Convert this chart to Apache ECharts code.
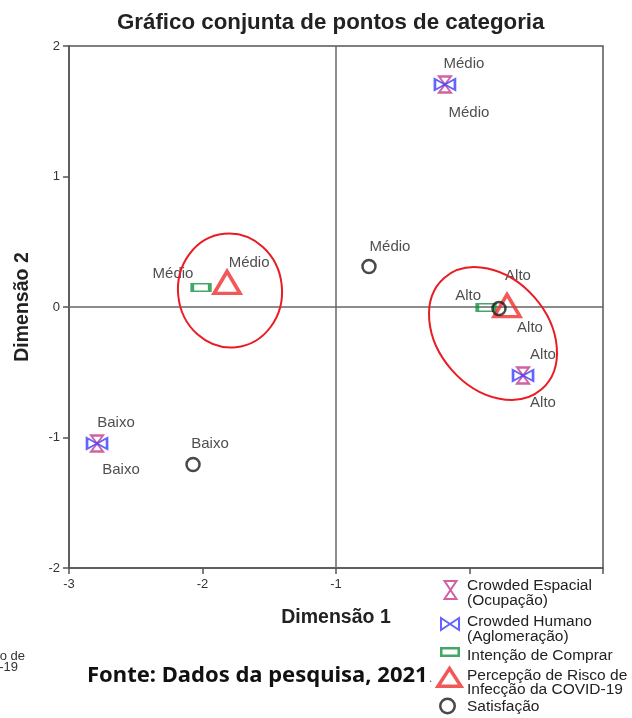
<!DOCTYPE html>
<html><head><meta charset="utf-8">
<script src="https://cdn.jsdelivr.net/npm/echarts@6/dist/echarts.min.js"></script>
<style>html,body{margin:0;padding:0;background:#fff}#c{width:632px;height:718px}</style>
</head><body><div id="c"></div>
<script>
// ---------- DATA ----------
const SERIES_NAMES = ['Crowded Espacial\n(Ocupação)', 'Crowded Humano\n(Aglomeração)', 'Intenção de Comprar', 'Percepção de Risco de\nInfecção da COVID-19', 'Satisfação'];
const espacialCats = ['Baixo', 'Médio', 'Alto'];
const espacialX = [-2.79, -0.184, 0.401];
const espacialY = [-1.046, 1.705, -0.525];
const humanoCats = ['Baixo', 'Médio', 'Alto'];
const humanoX = [-2.79, -0.184, 0.401];
const humanoY = [-1.046, 1.705, -0.525];
const intencaoCats = ['Médio', 'Alto'];
const intencaoX = [-2.011, 0.124];
const intencaoY = [0.149, -0.004];
const percepcaoCats = ['Médio', 'Alto'];
const percepcaoX = [-1.816, 0.281];
const percepcaoY = [0.188, 0.011];
const satisfacaoCats = ['Baixo', 'Médio', 'Alto'];
const satisfacaoX = [-2.071, -0.753, 0.221];
const satisfacaoY = [-1.207, 0.310, -0.011];
const xTickValues = [-3, -2, -1, 0, 1];
const xTickLabels = ['-3', '-2', '-1', '', ''];
const yTickValues = [-2, -1, 0, 1, 2];
const yTickLabels = ['-2', '-1', '0', '1', '2'];
const refLineX = -1;
const refLineY = 0;
const TITLE = 'Gráfico conjunta de pontos de categoria';
const XNAME = 'Dimensão 1';
const YNAME = 'Dimensão 2';
const SOURCE = 'Fonte: Dados da pesquisa, 2021';

// ---------- STYLE / LAYOUT ----------
const FONT = 'Liberation Sans, Arial, sans-serif';
const PINK = '#c43a8c', BLUE = '#3c3cff', GREEN = '#14923f', RED = '#ef2e30', BLACK = '#1c1c1c';
const CLEAR = 'rgba(0,0,0,0)';
const LABEL_OFFSETS = {
  esp: {Baixo: [19, -21], 'Médio': [19, -21], Alto: [20, -21]},
  hum: {Baixo: [24, 26], 'Médio': [24, 28], Alto: [20, 27]},
  int: {'Médio': [-28, -14], Alto: [-18, -12]},
  per: {'Médio': [22, -20], Alto: [23, 22]},
  sat: {Baixo: [17, -21], 'Médio': [21, -20], Alto: [19, -33]}
};
const ANNOT = [
  {c: [-1.794, 0.126], rx: 52, ry: 57, rot: 0.1},
  {c: [0.176, -0.203], rx: 74, ry: 55, rot: -0.85}
];

function mkData(cats, xs, ys, key) {
  return cats.map((c, i) => ({value: [xs[i], ys[i]], name: c, label: {offset: LABEL_OFFSETS[key][c]}}));
}
const baseLabel = {show: true, position: 'inside', formatter: p => p.name, fontFamily: FONT, fontSize: 15, color: '#222'};
const xLabelMap = {}; xTickValues.forEach((v, i) => xLabelMap[v] = xTickLabels[i]);
const yLabelMap = {}; yTickValues.forEach((v, i) => yLabelMap[v] = yTickLabels[i]);

const chart = echarts.init(document.getElementById('c'), null, {renderer: 'canvas'});

const LEG = [
  {name: SERIES_NAMES[0], cy: 593, icon: 'path://M0,0M32,30M14.5,3L26.5,3L14.5,21L26.5,21Z', color: PINK, bw: 2, lh: 15},
  {name: SERIES_NAMES[1], cy: 629.5, icon: 'path://M0,0M32,30M11,3.5L11,15.5L29,3.5L29,15.5Z', color: BLUE, bw: 2, lh: 15},
  {name: SERIES_NAMES[2], cy: 656, icon: 'path://M0,0M32,30M11.25,7.25L28.75,7.25L28.75,14.75L11.25,14.75Z', color: GREEN, bw: 2.5, lh: 15},
  {name: SERIES_NAMES[3], cy: 683, icon: 'path://M0,0M32,30M19.5,0.5L31,18.25L8,18.25Z', color: RED, bw: 3.5, lh: 14},
  {name: SERIES_NAMES[4], cy: 707, icon: 'path://M0,0M32,30M10.25,14A7.25,7.25 0 1 0 24.75,14A7.25,7.25 0 1 0 10.25,14Z', color: BLACK, bw: 2.5, lh: 15}
];

const option = {
  animation: false,
  backgroundColor: '#fff',
  title: {text: TITLE, left: 117, top: 12, padding: 0,
    textStyle: {fontFamily: FONT, fontSize: 22.3, fontWeight: 'bold', color: '#222'}},
  grid: {left: 69, right: 29, top: 46, bottom: 150, show: true, borderColor: '#555', borderWidth: 1.5,
    containLabel: false, outerBoundsMode: 'none'},
  xAxis: {type: 'value', min: -3, max: 1, interval: 1,
    name: XNAME, nameLocation: 'middle', nameGap: 40,
    nameTextStyle: {fontFamily: FONT, fontSize: 19.5, fontWeight: 'bold', color: '#222'},
    axisLine: {show: true, onZero: false, lineStyle: {color: '#555', width: 1.5}},
    axisTick: {show: true, length: 6, lineStyle: {color: '#555', width: 1.5}},
    axisLabel: {margin: 10, fontFamily: FONT, fontSize: 13, color: '#333', formatter: v => xLabelMap[v] || ''},
    splitLine: {show: false}},
  yAxis: {type: 'value', min: -2, max: 2, interval: 1,
    name: YNAME, nameLocation: 'middle', nameGap: 36, nameRotate: 90,
    nameTextStyle: {fontFamily: FONT, fontSize: 19.5, fontWeight: 'bold', color: '#222'},
    axisLine: {show: true, onZero: false, lineStyle: {color: '#555', width: 1.5}},
    axisTick: {show: true, length: 6, lineStyle: {color: '#555', width: 1.5}},
    axisLabel: {margin: 9, fontFamily: FONT, fontSize: 13, color: '#333', formatter: v => yLabelMap[v] || ''},
    splitLine: {show: false}},
  legend: LEG.map(l => ({
    data: [{name: l.name, icon: l.icon}], left: 430 - l.bw / 2, top: l.cy - 15 - l.bw / 2,
    orient: 'vertical', itemWidth: 32, itemHeight: 30, padding: 0, selectedMode: false,
    itemStyle: {color: CLEAR, borderColor: l.color, borderWidth: l.bw},
    textStyle: {fontFamily: FONT, fontSize: 15.5, color: '#222', lineHeight: l.lh}
  })),
  series: [
    {type: 'scatter', data: [], z: 1, silent: true,
      markLine: {silent: true, z: 1, symbol: 'none', animation: false, label: {show: false},
        lineStyle: {color: '#666', width: 1.5, type: 'solid'}, emphasis: {disabled: true},
        data: [{xAxis: refLineX}, {yAxis: refLineY}]}},
    {name: SERIES_NAMES[0], type: 'scatter', z: 3, data: mkData(espacialCats, espacialX, espacialY, 'esp'),
      symbol: 'path://M0,0L12,0L0,16L12,16Z', symbolSize: [12, 16],
      itemStyle: {color: CLEAR, borderColor: PINK, borderWidth: 2}, label: baseLabel, emphasis: {disabled: true}},
    {name: SERIES_NAMES[1], type: 'scatter', z: 3, data: mkData(humanoCats, humanoX, humanoY, 'hum'),
      symbol: 'path://M0,0L0,11L20,0L20,11Z', symbolSize: [20, 11],
      itemStyle: {color: CLEAR, borderColor: BLUE, borderWidth: 2}, label: baseLabel, emphasis: {disabled: true}},
    {name: SERIES_NAMES[2], type: 'scatter', z: 3, data: mkData(intencaoCats, intencaoX, intencaoY, 'int'),
      symbol: 'rect', symbolSize: [17.5, 7.5],
      itemStyle: {color: CLEAR, borderColor: GREEN, borderWidth: 2.5}, label: baseLabel, emphasis: {disabled: true}},
    {name: SERIES_NAMES[3], type: 'scatter', z: 3, data: mkData(percepcaoCats, percepcaoX, percepcaoY, 'per'),
      symbol: 'triangle', symbolSize: [26, 22],
      itemStyle: {color: CLEAR, borderColor: RED, borderWidth: 3.5}, label: baseLabel, emphasis: {disabled: true}},
    {name: SERIES_NAMES[4], type: 'scatter', z: 3, data: mkData(satisfacaoCats, satisfacaoX, satisfacaoY, 'sat'),
      symbol: 'circle', symbolSize: 13,
      itemStyle: {color: CLEAR, borderColor: BLACK, borderWidth: 2.5}, label: baseLabel, emphasis: {disabled: true}}
  ]
};
chart.setOption(option);

const graphics = ANNOT.map((a, i) => {
  const p = chart.convertToPixel({gridIndex: 0}, a.c);
  return {type: 'ellipse', id: 'ell' + i, x: p[0], y: p[1], rotation: a.rot, silent: true, z: 10,
    shape: {cx: 0, cy: 0, rx: a.rx, ry: a.ry}, style: {fill: 'none', stroke: '#ea1c24', lineWidth: 2}};
});
graphics.push({type: 'text', id: 'src', x: 87, y: 676, silent: true, z: 10,
  style: {text: '{b|' + SOURCE + '}{p|.}', verticalAlign: 'middle',
    rich: {b: {fontFamily: 'Noto Sans, Open Sans, sans-serif', fontWeight: 'bold', fontSize: 22, fill: '#111'},
           p: {fontFamily: FONT, fontSize: 13, fill: '#666', verticalAlign: 'bottom', padding: [0, 0, 2, 1]}}}});
graphics.push({type: 'text', id: 'clip1', x: 25, y: 656, silent: true,
  style: {text: 'Percepção de Risco de', align: 'right', verticalAlign: 'middle', fontFamily: FONT, fontSize: 13, fill: '#333'}});
graphics.push({type: 'text', id: 'clip2', x: 18, y: 667, silent: true,
  style: {text: 'Infecção da COVID-19', align: 'right', verticalAlign: 'middle', fontFamily: FONT, fontSize: 13, fill: '#333'}});
chart.setOption({graphic: graphics});
</script>
</body></html>
